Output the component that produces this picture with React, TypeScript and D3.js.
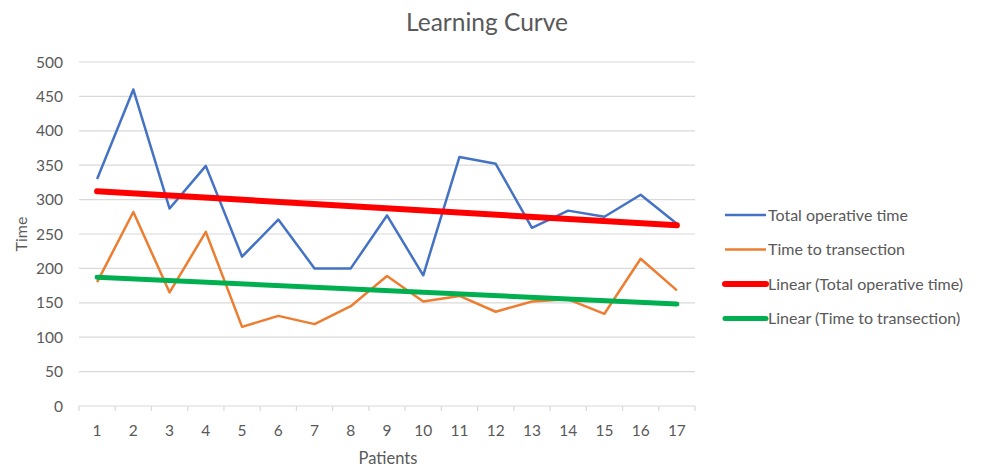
import React, { useEffect, useRef } from "react";
import * as d3 from "d3";

const patients = ["1","2","3","4","5","6","7","8","9","10","11","12","13","14","15","16","17"];
const totalOperative = [330, 460, 287, 349, 217, 271, 200, 200, 277, 190, 362, 352, 259, 284, 275, 307, 265];
const timeToTransection = [180, 282, 165, 253, 115, 131, 119, 145, 189, 152, 160, 137, 152, 155, 134, 214, 168];
const yTicks = [0, 50, 100, 150, 200, 250, 300, 350, 400, 450, 500];
const legendLabels = [
  "Total operative time",
  "Time to transection",
  "Linear (Total operative time)",
  "Linear (Time to transection)",
];

const W = 984, H = 468;
const FONT = "Lato, 'Open Sans', sans-serif";
const GREY = "#595959";

// least squares fit over index 1..n, same as excel's linear trendline
function fit(vals: number[]) {
  const xs = vals.map((_, i) => i + 1);
  const mx = d3.mean(xs)!, my = d3.mean(vals)!;
  let num = 0, den = 0;
  xs.forEach((x, i) => { num += (x - mx) * (vals[i] - my); den += (x - mx) ** 2; });
  const b = num / den;
  return (x: number) => my + b * (x - mx);
}

export default function App() {
  const ref = useRef<SVGSVGElement>(null);

  useEffect(() => {
    const svg = d3.select(ref.current);
    svg.selectAll("*").remove();

    const left = 79, right = 695, top = 62, bottom = 406;

    const x = d3.scaleBand().domain(patients).range([left, right]);
    const y = d3.scaleLinear().domain([0, 500]).range([bottom, top]);
    const cx = (i: number) => x(patients[i])! + x.bandwidth() / 2;

    svg.append("text")
      .attr("x", 487).attr("y", 31)
      .attr("text-anchor", "middle")
      .style("font-family", FONT).style("font-size", "24.5px").attr("fill", GREY)
      .text("Learning Curve");

    // gridlines
    svg.append("g").selectAll("line").data(yTicks.filter(t => t > 0)).join("line")
      .attr("x1", left).attr("x2", right)
      .attr("y1", d => y(d)).attr("y2", d => y(d))
      .attr("stroke", "#d9d9d9").attr("stroke-width", 1.2);

    svg.append("g").selectAll("text").data(yTicks).join("text")
      .attr("x", 63).attr("y", d => y(d) + 5.5)
      .attr("text-anchor", "end")
      .style("font-family", FONT).style("font-size", "15.5px").attr("fill", GREY)
      .text(d => d);

    // x axis
    const xa = svg.append("g");
    xa.append("line").attr("x1", left).attr("x2", right).attr("y1", bottom).attr("y2", bottom)
      .attr("stroke", "#d9d9d9").attr("stroke-width", 1.2);
    const bounds = patients.map(p => x(p)!).concat([right]);
    xa.selectAll("line.tk").data(bounds).join("line").attr("class", "tk")
      .attr("x1", d => d).attr("x2", d => d).attr("y1", bottom).attr("y2", bottom + 5)
      .attr("stroke", "#d9d9d9").attr("stroke-width", 1.2);
    xa.selectAll("text").data(patients).join("text")
      .attr("x", (d, i) => cx(i)).attr("y", 436)
      .attr("text-anchor", "middle")
      .style("font-family", FONT).style("font-size", "15.5px").attr("fill", GREY)
      .text(d => d);

    svg.append("text")
      .attr("x", 388).attr("y", 464).attr("text-anchor", "middle")
      .style("font-family", FONT).style("font-size", "16.5px").attr("fill", GREY)
      .text("Patients");
    svg.append("text")
      .attr("transform", "translate(27,234) rotate(-90)").attr("text-anchor", "middle")
      .style("font-family", FONT).style("font-size", "16px").attr("fill", GREY)
      .text("Time");

    const line = d3.line<number>().x((_, i) => cx(i)).y(d => y(d));

    svg.append("path").datum(totalOperative).attr("d", line)
      .attr("fill", "none").attr("stroke", "#4472C4").attr("stroke-width", 2.5)
      .attr("stroke-linejoin", "round");
    svg.append("path").datum(timeToTransection).attr("d", line)
      .attr("fill", "none").attr("stroke", "#ED7D31").attr("stroke-width", 2.5)
      .attr("stroke-linejoin", "round");

    const trend = (vals: number[], color: string, w: number) => {
      const f = fit(vals);
      svg.append("line")
        .attr("x1", cx(0)).attr("y1", y(f(1)))
        .attr("x2", cx(vals.length - 1)).attr("y2", y(f(vals.length)))
        .attr("stroke", color).attr("stroke-width", w).attr("stroke-linecap", "round");
    };
    trend(totalOperative, "#FF0000", 6);
    trend(timeToTransection, "#00B050", 5);

    const legColors = ["#4472C4", "#ED7D31", "#FF0000", "#00B050"];
    const legWidths = [2.5, 2.5, 6, 5];
    const leg = svg.append("g").selectAll("g").data(legendLabels).join("g")
      .attr("transform", (d, i) => `translate(0,${215 + i * 34.5})`);
    leg.append("line").attr("x1", 725).attr("x2", 766).attr("y1", 0).attr("y2", 0)
      .attr("stroke", (d, i) => legColors[i]).attr("stroke-width", (d, i) => legWidths[i])
      .attr("stroke-linecap", (d, i) => (i > 1 ? "round" : "butt"));
    leg.append("text").attr("x", 768).attr("y", 5.5)
      .style("font-family", FONT).style("font-size", "16px").attr("fill", GREY)
      .text(d => d);
  }, []);

  return (
    <svg ref={ref} width={W} height={H}
      style={{ position: "absolute", left: 0, top: 0, background: "#fff" }} />
  );
}
